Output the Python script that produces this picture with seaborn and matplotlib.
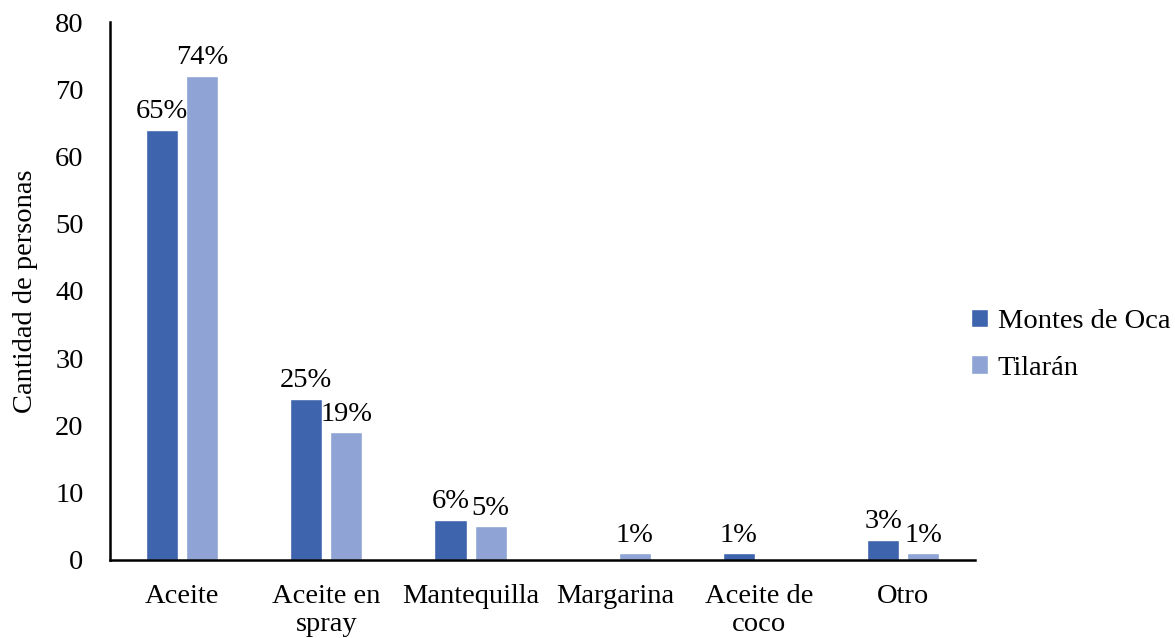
import matplotlib
matplotlib.use("Agg")
import matplotlib.pyplot as plt
import seaborn as sns
import pandas as pd

categories = ["Aceite", "Aceite en\nspray", "Mantequilla", "Margarina", "Aceite de\ncoco", "Otro"]
series_names = ["Montes de Oca", "Tilarán"]
montes = [64, 24, 6, 0, 1, 3]
tilaran = [72, 19, 5, 1, 0, 1]
montes_pct = ["65%", "25%", "6%", "", "1%", "3%"]
tilaran_pct = ["74%", "19%", "5%", "1%", "", "1%"]
colors = ["#3d64ad", "#8fa4d4"]

df = pd.DataFrame({
    "cat": categories * 2,
    "serie": [series_names[0]] * 6 + [series_names[1]] * 6,
    "val": montes + tilaran,
})

sns.set_theme(style="white")
plt.rcParams["font.family"] = ["Liberation Serif", "DejaVu Serif"]
plt.rcParams["text.color"] = "black"

FS = 20.5
fig = plt.figure(figsize=(11.75, 6.38), dpi=100)
ax = fig.add_axes([0.0936, 0.1223, 0.7364, 0.8432])

sns.barplot(data=df, x="cat", y="val", hue="serie", palette=colors,
            order=categories, hue_order=series_names, width=0.555, gap=0.2,
            saturation=1, ax=ax)

for cont, labs in zip(ax.containers, [montes_pct, tilaran_pct]):
    ax.bar_label(cont, labels=labs, padding=4, fontsize=FS, color="black")

ax.set_ylim(0, 80)
ax.set_yticks(range(0, 81, 10))
ax.set_xlim(-0.5, 5.5)
ax.set_xlabel("")
ax.set_ylabel("Cantidad de personas", fontsize=FS, color="black", labelpad=12)
ax.tick_params(axis="both", labelsize=FS, colors="black", length=0)
ax.tick_params(axis="x", pad=17)
ax.tick_params(axis="y", pad=19)
for s in ["top", "right"]:
    ax.spines[s].set_visible(False)
for s in ["left", "bottom"]:
    ax.spines[s].set_color("black")
    ax.spines[s].set_linewidth(1.8)

leg = ax.legend(loc="center left", bbox_to_anchor=(0.965, 0.40), frameon=False,
                fontsize=FS, handlelength=0.6, handleheight=0.6, handletextpad=0.35,
                labelspacing=0.75)
for t in leg.get_texts():
    t.set_color("black")

fig.savefig("out.png", dpi=100)
